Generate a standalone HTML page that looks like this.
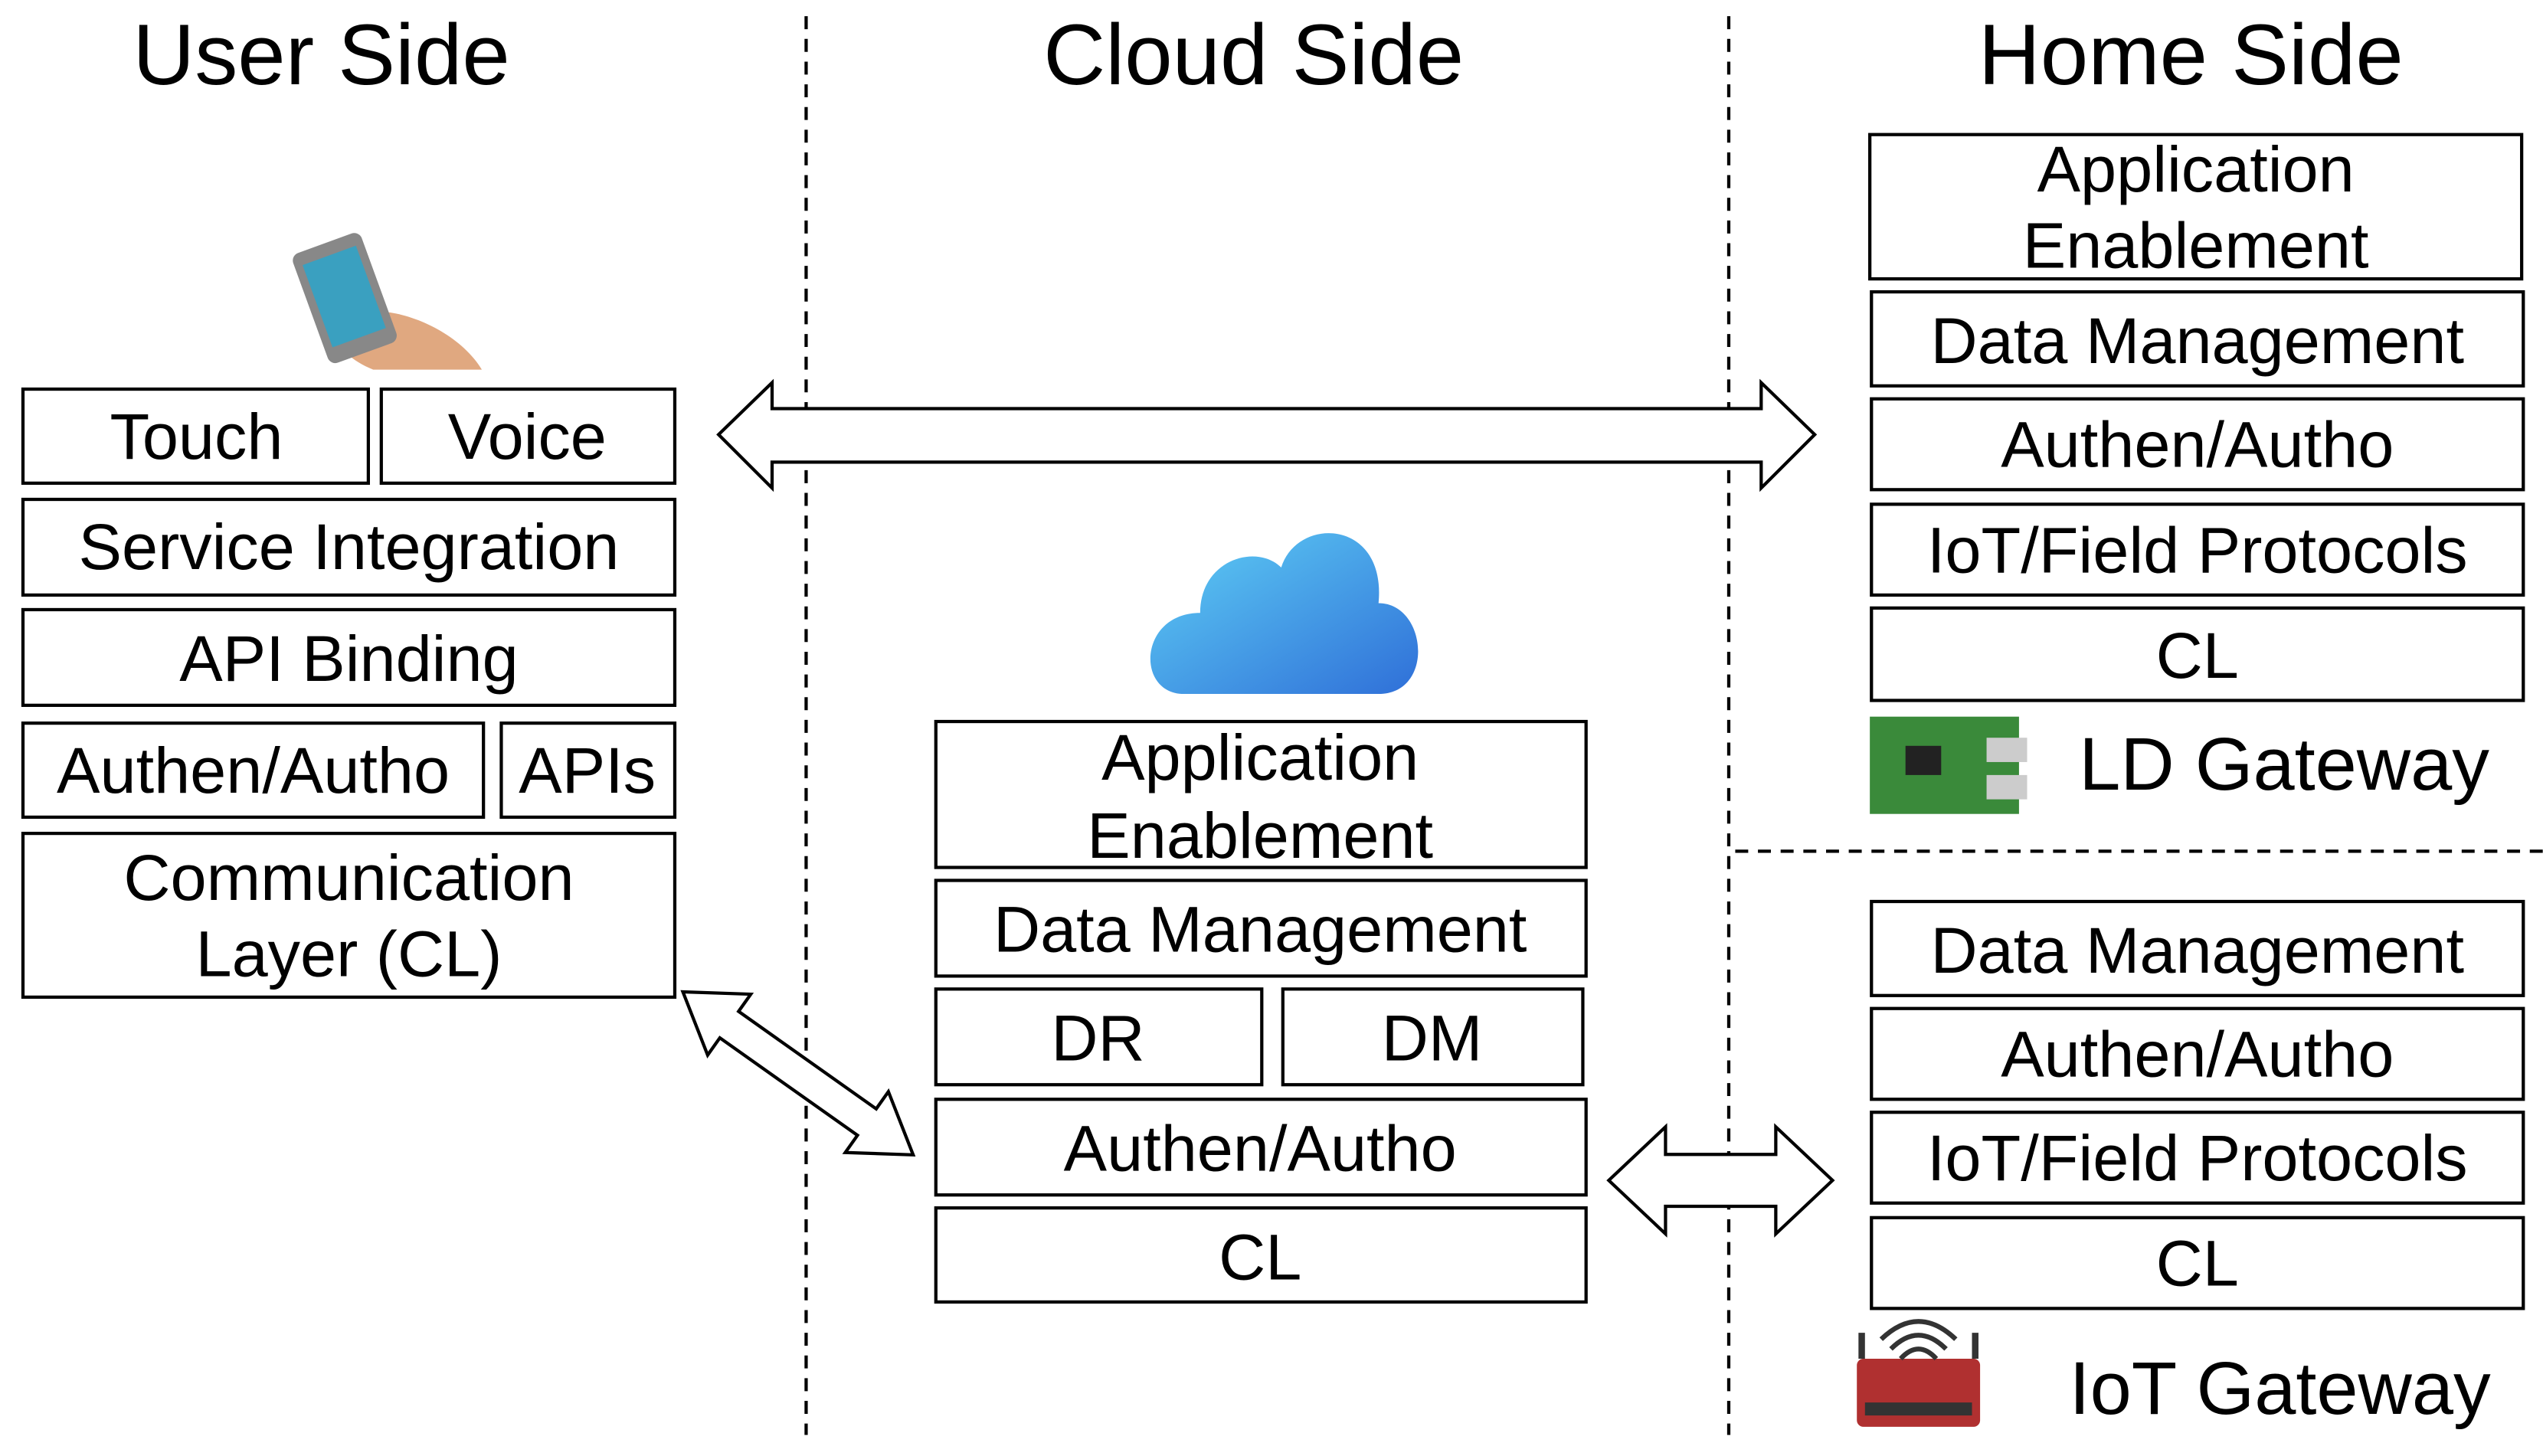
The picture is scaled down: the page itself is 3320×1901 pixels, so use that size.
<!DOCTYPE html>
<html><head><meta charset="utf-8"><style>html,body{margin:0;padding:0;background:#fff}svg{display:block}</style></head>
<body>
<svg width="3320" height="1901" viewBox="0 0 1568 898" xmlns="http://www.w3.org/2000/svg" font-family="Liberation Sans, sans-serif">
<defs>
<linearGradient id="cg" x1="0" y1="0" x2="1" y2="1"><stop offset="0" stop-color="#5fd0f5"/><stop offset="1" stop-color="#2f6fd8"/></linearGradient>
</defs>
<rect width="1568" height="898" fill="#fff"/>
<g font-size="53" text-anchor="middle" fill="#000">
<text x="198" y="52">User Side</text>
<text x="773" y="52">Cloud Side</text>
<text x="1351" y="52">Home Side</text>
</g>
<g stroke="#000" stroke-width="2" stroke-dasharray="8,6" fill="none">
<line x1="497" y1="10" x2="497" y2="885"/>
<line x1="1066" y1="10" x2="1066" y2="885"/>
<line x1="1070" y1="525" x2="1568" y2="525"/>
</g>
<g fill="#fff" stroke="#000" stroke-width="2">
<rect x="14" y="240" width="213" height="58"/><rect x="235" y="240" width="181" height="58"/>
<rect x="14" y="308" width="402" height="59"/><rect x="14" y="376" width="402" height="59"/>
<rect x="14" y="446" width="284" height="58"/><rect x="309" y="446" width="107" height="58"/>
<rect x="14" y="514" width="402" height="101"/>
<rect x="577" y="445" width="401" height="90"/><rect x="577" y="543" width="401" height="59"/>
<rect x="577" y="610" width="201" height="59"/><rect x="791" y="610" width="185" height="59"/>
<rect x="577" y="678" width="401" height="59"/><rect x="577" y="745" width="401" height="58"/>
<rect x="1153" y="83" width="402" height="89"/><rect x="1154" y="180" width="402" height="58"/>
<rect x="1154" y="246" width="402" height="56"/><rect x="1154" y="311" width="402" height="56"/>
<rect x="1154" y="375" width="402" height="57"/>
<rect x="1154" y="556" width="402" height="58"/><rect x="1154" y="622" width="402" height="56"/>
<rect x="1154" y="686" width="402" height="56"/><rect x="1154" y="751" width="402" height="56"/>
</g>
<g font-size="40" text-anchor="middle" fill="#000">
<text x="121" y="283">Touch</text><text x="325" y="283">Voice</text>
<text x="215" y="351">Service Integration</text><text x="215" y="420">API Binding</text>
<text x="156" y="489">Authen/Autho</text><text x="362" y="489">APIs</text>
<text x="215" y="555">Communication</text><text x="215" y="602">Layer (CL)</text>
<text x="777" y="481">Application</text><text x="777" y="529">Enablement</text>
<text x="777" y="587">Data Management</text>
<text x="677" y="654">DR</text><text x="883" y="654">DM</text>
<text x="777" y="722">Authen/Autho</text><text x="777" y="789">CL</text>
<text x="1354" y="118">Application</text><text x="1354" y="165">Enablement</text>
<text x="1355" y="224">Data Management</text><text x="1355" y="288">Authen/Autho</text>
<text x="1355" y="353">IoT/Field Protocols</text><text x="1355" y="418">CL</text>
<text x="1355" y="600">Data Management</text><text x="1355" y="664">Authen/Autho</text>
<text x="1355" y="728">IoT/Field Protocols</text><text x="1355" y="793">CL</text>
</g>
<g font-size="46" fill="#000">
<text x="1282" y="487">LD Gateway</text>
<text x="1276" y="872">IoT Gateway</text>
</g>
<g fill="#fff" stroke="#000" stroke-width="2">
<polygon points="443,268 476,236 476,252 1086,252 1086,236 1119,268 1086,301 1086,285 476,285 476,301"/>
<polygon points="992,728 1027,695 1027,712 1095,712 1095,695 1130,728 1095,761 1095,744 1027,744 1027,761"/>
<g transform="translate(492,662) rotate(35.3)">
<polygon points="-87,0 -52,-23 -52,-10 52,-10 52,-23 87,0 52,23 52,10 -52,10 -52,23"/>
</g>
</g>
<g>
<path d="M215,195 C235,185 280,200 297,228 L230,228 C210,220 200,205 215,195Z" fill="#e0a880"/>
<rect x="190" y="148" width="45" height="72" rx="5" fill="#888" transform="rotate(-20 212 184)"/>
<rect x="195" y="156" width="35" height="54" fill="#3aa0c0" transform="rotate(-20 212 184)"/>
</g>
<path d="M730,428 C700,428 702,378 740,378 C740,345 775,335 790,350 C800,318 855,320 850,372 C880,372 885,428 850,428 Z" fill="url(#cg)"/>
<rect x="1153" y="442" width="92" height="60" fill="#3a8a3a"/>
<rect x="1225" y="455" width="25" height="15" fill="#ccc"/><rect x="1225" y="478" width="25" height="15" fill="#ccc"/>
<rect x="1175" y="460" width="22" height="18" fill="#222"/>
<rect x="1145" y="838" width="76" height="42" rx="4" fill="#b03030"/>
<rect x="1150" y="865" width="66" height="8" fill="#333"/>
<line x1="1148" y1="838" x2="1148" y2="822" stroke="#333" stroke-width="4"/>
<line x1="1218" y1="838" x2="1218" y2="822" stroke="#333" stroke-width="4"/>
<g fill="none" stroke="#333" stroke-width="3">
<path d="M1166,832 Q1183,815 1200,832"/><path d="M1172,838 Q1183,826 1194,838"/><path d="M1160,826 Q1183,804 1206,826"/>
</g>
</svg>
</body></html>
